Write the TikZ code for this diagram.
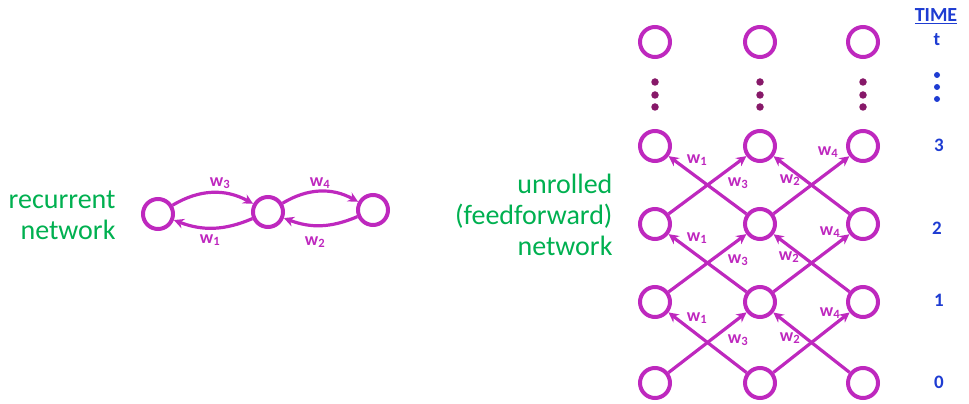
\documentclass[tikz,border=0pt]{standalone}
\usepackage{fontspec}
\setmainfont{Carlito}
\usetikzlibrary{arrows.meta}
\definecolor{netpink}{RGB}{190,40,190}
\definecolor{dotpurple}{RGB}{135,25,105}
\definecolor{textgreen}{RGB}{0,176,80}
\definecolor{timeblue}{RGB}{30,60,210}

\begin{document}
\begin{tikzpicture}[
		unit/.style={circle, draw=netpink, line width=4pt, minimum size=30pt, inner sep=0pt},
		edge/.style={draw=netpink, line width=3.2pt, -{Stealth[length=10pt, width=10pt]}},
		wlabel/.style={text=netpink, font=\bfseries\fontsize{18}{18}\selectfont, inner sep=0pt},
		caption/.style={text=textgreen, align=right, anchor=east, font=\fontsize{28}{31}\selectfont},
		timelabel/.style={text=timeblue, font=\bfseries\fontsize{19}{19}\selectfont, inner sep=0pt},
		vdot/.style={circle, fill=dotpurple, inner sep=0pt, minimum size=7.5pt}
	]
  \useasboundingbox (0pt, 0pt) rectangle (969pt, 404pt);

  % recurrent network
  \node (rec_text) [caption] at (119pt, 189pt) {recurrent\\network};
  \node (a) [unit] at (158pt, 190pt) {};
  \node (b) [unit] at (268pt, 192pt) {};
  \node (c) [unit] at (373pt, 194pt) {};
  \draw [edge] (a) to [bend left=30] (b);
  \draw [edge] (b) to [bend left=22] (a);
  \draw [edge] (b) to [bend left=30] (c);
  \draw [edge] (c) to [bend left=22] (b);
  \node (a_w3) [wlabel] at (220pt, 221pt) {w\textsubscript{3}};
  \node (a_w1) [wlabel] at (210pt, 164pt) {w\textsubscript{1}};
  \node (b_w4) [wlabel] at (320pt, 221pt) {w\textsubscript{4}};
  \node (b_w2) [wlabel] at (315pt, 162pt) {w\textsubscript{2}};

  % unrolled network
  \node (unr_text) [caption] at (616pt, 189pt) {unrolled\\(feedforward)\\network};
  \node (l_0) [unit] at (655pt, 21pt) {};
  \node (m_0) [unit] at (760pt, 21pt) {};
  \node (r_0) [unit] at (863pt, 21pt) {};
  \node (l_1) [unit] at (655pt, 102pt) {};
  \node (m_1) [unit] at (760pt, 102pt) {};
  \node (r_1) [unit] at (863pt, 102pt) {};
  \node (l_2) [unit] at (655pt, 180pt) {};
  \node (m_2) [unit] at (760pt, 180pt) {};
  \node (r_2) [unit] at (863pt, 180pt) {};
  \node (l_3) [unit] at (655pt, 258pt) {};
  \node (m_3) [unit] at (760pt, 258pt) {};
  \node (r_3) [unit] at (863pt, 258pt) {};
  \node (l_t) [unit] at (655pt, 362pt) {};
  \node (m_t) [unit] at (760pt, 362pt) {};
  \node (r_t) [unit] at (863pt, 362pt) {};

  \draw [edge] (l_0) -- (m_1);
  \draw [edge] (m_0) -- (l_1);
  \draw [edge] (m_0) -- (r_1);
  \draw [edge] (r_0) -- (m_1);
  \draw [edge] (l_1) -- (m_2);
  \draw [edge] (m_1) -- (l_2);
  \draw [edge] (m_1) -- (r_2);
  \draw [edge] (r_1) -- (m_2);
  \draw [edge] (l_2) -- (m_3);
  \draw [edge] (m_2) -- (l_3);
  \draw [edge] (m_2) -- (r_3);
  \draw [edge] (r_2) -- (m_3);

  \node (w1_1) [wlabel] at (697pt, 86pt) {w\textsubscript{1}};
  \node (w3_1) [wlabel] at (738pt, 64pt) {w\textsubscript{3}};
  \node (w2_1) [wlabel] at (790pt, 66pt) {w\textsubscript{2}};
  \node (w4_1) [wlabel] at (830pt, 91pt) {w\textsubscript{4}};
  \node (w1_2) [wlabel] at (697pt, 166pt) {w\textsubscript{1}};
  \node (w3_2) [wlabel] at (738pt, 144pt) {w\textsubscript{3}};
  \node (w2_2) [wlabel] at (789pt, 147pt) {w\textsubscript{2}};
  \node (w4_2) [wlabel] at (830pt, 172pt) {w\textsubscript{4}};
  \node (w1_3) [wlabel] at (697pt, 244pt) {w\textsubscript{1}};
  \node (w3_3) [wlabel] at (738pt, 221pt) {w\textsubscript{3}};
  \node (w2_3) [wlabel] at (790pt, 224pt) {w\textsubscript{2}};
  \node (w4_3) [wlabel] at (828pt, 252pt) {w\textsubscript{4}};

  % dots between row 3 and row t
  \node (l_d1) [vdot] at (655pt, 322pt) {};
  \node (l_d2) [vdot] at (655pt, 309pt) {};
  \node (l_d3) [vdot] at (655pt, 297pt) {};
  \node (m_d1) [vdot] at (760pt, 322pt) {};
  \node (m_d2) [vdot] at (760pt, 309pt) {};
  \node (m_d3) [vdot] at (760pt, 297pt) {};
  \node (r_d1) [vdot] at (863pt, 322pt) {};
  \node (r_d2) [vdot] at (863pt, 309pt) {};
  \node (r_d3) [vdot] at (863pt, 297pt) {};

  % time axis
  \node (time) [timelabel, font=\bfseries\fontsize{20}{20}\selectfont] at (936pt, 388pt) {\underline{TIME}};
  \node (time_t) [timelabel] at (937pt, 364pt) {t};
  \node (time_d1) [vdot, fill=timeblue, minimum size=6pt] at (937pt, 329pt) {};
  \node (time_d2) [vdot, fill=timeblue, minimum size=6pt] at (937pt, 317pt) {};
  \node (time_d3) [vdot, fill=timeblue, minimum size=6pt] at (937pt, 305pt) {};
  \node (time_3) [timelabel] at (939pt, 259pt) {3};
  \node (time_2) [timelabel] at (937pt, 176pt) {2};
  \node (time_1) [timelabel] at (939pt, 104pt) {1};
  \node (time_0) [timelabel] at (939pt, 22pt) {0};
\end{tikzpicture}
\end{document}
